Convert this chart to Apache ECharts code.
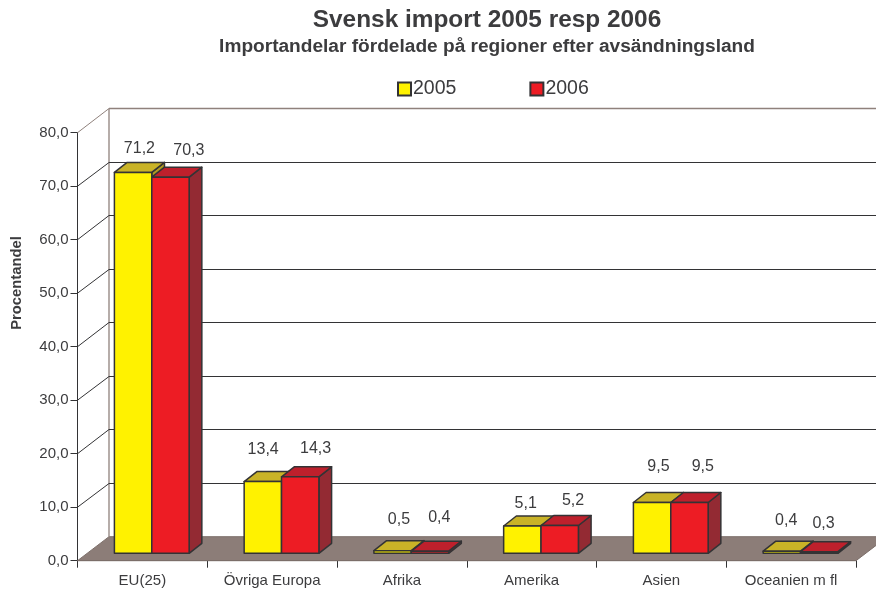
<!DOCTYPE html>
<html>
<head>
<meta charset="utf-8">
<title>Svensk import 2005 resp 2006</title>
<style>
  html, body { margin: 0; padding: 0; background: #fff; }
  #chart { width: 876px; height: 589px; }
</style>
<script src="https://cdn.jsdelivr.net/npm/echarts@6/dist/echarts.min.js"></script>
</head>
<body>
<div id="chart"></div>
<script>
var categories = ['EU(25)', 'Övriga Europa', 'Afrika', 'Amerika', 'Asien', 'Oceanien m fl'];
var values2005 = [71.2, 13.4, 0.5, 5.1, 9.5, 0.4];
var values2006 = [70.3, 14.3, 0.4, 5.2, 9.5, 0.3];
var yTicks = [0, 10, 20, 30, 40, 50, 60, 70, 80];

// the labels in the original are hand placed, so each one gets its own nudge
var labelDx2005 = [0, -6, 0, -3, 0, -2];
var labelDx2006 = [12, 9, 3, 7, 7, -2];
var labelLift2005 = [24, 32, 31, 22, 36, 31];
var labelLift2006 = [27, 28, 34, 25, 36, 28];

var textColor = '#3c3c3e';
var edgeColor = '#333335';
var wallColor = '#8f817c';
var floorColor = '#8c7d78';
var font = '"Liberation Sans", Arial, sans-serif';

// depth of the floor / of a single bar, pixels
var floorDx = 31.5, floorDy = 24;
var barDx = 12.7, barDy = 10;
var barShiftX = 9.4, barShiftY = 7.4;

function renderRoom(params, api) {
  var rect = params.coordSys;
  var tick = api.value(1);
  var y = api.coord([0, tick])[1];
  var x0 = rect.x, x1 = rect.x + rect.width;
  var color = tick === 80 ? wallColor : edgeColor;
  var backY = Math.floor(y - floorDy) + 0.5;
  var children = [];
  if (tick === 0) {
    children.push({
      type: 'polygon',
      shape: { points: [[x0, y], [x0 + floorDx, y - floorDy], [x1 + floorDx, y - floorDy], [x1, y]] },
      style: { fill: floorColor, stroke: '#7d6f6a', lineWidth: 1 }
    });
    var top = api.coord([0, 80])[1] - floorDy;
    children.push({
      type: 'line',
      shape: { x1: x0 + floorDx, y1: top, x2: x0 + floorDx, y2: y - floorDy },
      style: { stroke: wallColor, lineWidth: 1.3 }
    });
  } else {
    children.push({
      type: 'line',
      shape: { x1: x0, y1: y, x2: x0 + floorDx, y2: backY },
      style: { stroke: color, lineWidth: 1 }
    });
    children.push({
      type: 'line',
      shape: { x1: x0 + floorDx, y1: backY, x2: x1 + floorDx, y2: backY },
      style: { stroke: color, lineWidth: tick === 80 ? 1.3 : 1 }
    });
  }
  return { type: 'group', children: children };
}

function makeBarRenderer(front, topFace, side, slot, dxList, liftList) {
  return function (params, api) {
    var i = api.value(0);
    var v = api.value(1);
    var c = api.coord([i, v]);
    var base = api.coord([i, 0])[1] - barShiftY;
    var w = api.size([1, 0])[0] * 0.288;
    var left = c[0] + barShiftX + (slot === 0 ? -w : 0);
    var right = left + w;
    var top = c[1] - barShiftY;
    var edge = { stroke: edgeColor, lineWidth: 1.5, lineJoin: 'round' };
    function face(points, fill) {
      return { type: 'polygon', shape: { points: points }, style: Object.assign({ fill: fill }, edge) };
    }
    return {
      type: 'group',
      children: [
        face([[right, top], [right + barDx, top - barDy], [right + barDx, base - barDy], [right, base]], side),
        face([[left, top], [left + barDx, top - barDy], [right + barDx, top - barDy], [right, top]], topFace),
        face([[left, top], [right, top], [right, base], [left, base]], front),
        {
          type: 'text',
          style: {
            x: left + w / 2 + barDx / 2 + dxList[i],
            y: top - liftList[i],
            text: v.toFixed(1).replace('.', ','),
            fill: textColor,
            font: '16px ' + font,
            align: 'center',
            verticalAlign: 'middle'
          }
        }
      ]
    };
  };
}

function pairs(list) {
  return list.map(function (v, i) { return [i, v]; });
}

var chart = echarts.init(document.getElementById('chart'), null, { renderer: 'canvas' });
chart.setOption({
  animation: false,
  backgroundColor: '#fff',
  title: {
    text: 'Svensk import 2005 resp 2006',
    subtext: 'Importandelar fördelade på regioner efter avsändningsland',
    left: 487,
    top: 8,
    textAlign: 'center',
    itemGap: 5,
    padding: 0,
    textStyle: { fontFamily: font, fontSize: 24.4, fontWeight: 'bold', color: textColor },
    subtextStyle: { fontFamily: font, fontSize: 19.1, fontWeight: 'bold', color: textColor }
  },
  legend: {
    data: ['2005', '2006'],
    left: 397,
    top: 79,
    padding: 0,
    icon: 'rect',
    itemWidth: 13,
    itemHeight: 13,
    itemGap: 73,
    selectedMode: false,
    textStyle: { fontFamily: font, fontSize: 19.5, color: textColor, padding: [0, 0, 0, -3] }
  },
  grid: { left: 77.5, top: 132.7, width: 778.5, height: 428, outerBoundsMode: 'none' },
  graphic: [{
    type: 'text',
    x: 17,
    y: 283,
    rotation: Math.PI / 2,
    style: {
      text: 'Procentandel',
      fill: textColor,
      font: 'bold 14.8px ' + font,
      align: 'center',
      verticalAlign: 'middle'
    }
  }],
  xAxis: {
    type: 'category',
    data: categories,
    axisLine: { lineStyle: { color: edgeColor, width: 1 } },
    axisTick: { show: true, alignWithLabel: false, length: 7, lineStyle: { color: edgeColor } },
    axisLabel: { fontFamily: font, fontSize: 15, color: textColor, margin: 13 },
    splitLine: { show: false }
  },
  yAxis: {
    type: 'value',
    min: 0,
    max: 80,
    interval: 10,
    axisLine: { show: true, lineStyle: { color: edgeColor, width: 1 } },
    axisTick: { show: true, length: 7, lineStyle: { color: edgeColor } },
    axisLabel: {
      fontFamily: font,
      fontSize: 15,
      color: textColor,
      margin: 9,
      padding: [6, 0, 0, 0],
      formatter: function (v) { return v.toFixed(1).replace('.', ','); }
    },
    splitLine: { show: false }
  },
  series: [
    {
      type: 'custom',
      name: 'room',
      z: 1,
      silent: true,
      renderItem: renderRoom,
      data: yTicks.map(function (t) { return [0, t]; })
    },
    {
      type: 'custom',
      name: '2005',
      z: 2,
      renderItem: makeBarRenderer('#fff200', '#c9b327', '#b09c22', 0, labelDx2005, labelLift2005),
      itemStyle: { color: '#fff200', borderColor: edgeColor, borderWidth: 1.5 },
      data: pairs(values2005)
    },
    {
      type: 'custom',
      name: '2006',
      z: 3,
      renderItem: makeBarRenderer('#ed1c24', '#be202c', '#932a33', 1, labelDx2006, labelLift2006),
      itemStyle: { color: '#ed1c24', borderColor: edgeColor, borderWidth: 1.5 },
      data: pairs(values2006)
    }
  ]
});
</script>
</body>
</html>
